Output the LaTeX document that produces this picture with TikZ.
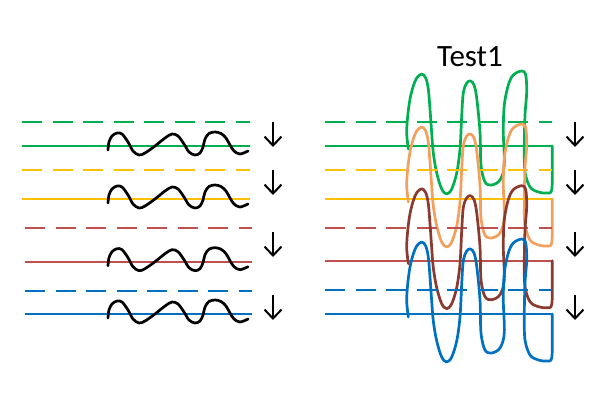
\documentclass[tikz,border=0pt]{standalone}
\usepackage{fontspec}
\newfontfamily\twlabelfont{Carlito}
\usetikzlibrary{arrows.meta}
\definecolor{twgreen}{HTML}{00B050}
\definecolor{twyellow}{HTML}{FFC000}
\definecolor{twred}{HTML}{C0504D}
\definecolor{twblue}{HTML}{0070C0}
\definecolor{tworange}{HTML}{F2A05E}
\definecolor{twbrown}{HTML}{8B3A30}
\tikzset{
  twline/.style={line width=2.4pt},
  twdash/.style={line width=2.4pt, dash pattern=on 20pt off 10.5pt},
  twwave/.style={line width=2.7pt, line cap=round, line join=round},
  twarrow/.style={-{Straight Barb[length=9pt, width=17pt]},
    line width=2pt, draw=black},
  twtitle/.style={anchor=base, font=\twlabelfont\fontsize{31}{36}\selectfont},
}

\begin{document}
\begin{tikzpicture}[x=1pt, y=-1pt]

\useasboundingbox (0, 0) rectangle (611, 396);

% Left panel: lines with a small wave on each solid line.
\foreach \ydash/\yline/\xa/\xb/\col in {%
    122/146/22/250/twgreen,
    170/199/22/250/twyellow,
    228/261.7/25/252/twred,
    290.7/314/25/252/twblue} {
  \draw[twdash, draw=\col] (\xa, \ydash) -- (\xb, \ydash);
  \draw[twline, draw=\col] (\xa, \yline) -- (\xb, \yline);
  \draw[twwave, shift={(0, \yline)}] plot[smooth, tension=0.55] coordinates {
    (108, 4) (109, -4) (112, -10) (117, -13) (122, -12) (128, -4)
    (133, 5) (139, 9) (145, 7) (155, 0) (165, -8) (172, -12)
    (178, -10) (184, -2) (189, 6) (195, 9) (200, 7) (203, 1)
    (205, -7) (209, -12.5) (215, -14) (221, -12.5) (226, -8) (230, -1)
    (234, 5) (240, 8) (248, 5)};
}

% Right panel: the same lines with the wave stretched upwards.
\node[twtitle] (title) at (470, 66.7) {Test1};
\foreach \ydash/\yline/\col/\wcol in {%
    121.7/146/twgreen/twgreen,
    170/199/twyellow/tworange,
    228/260.7/twred/twbrown,
    290/314/twblue/twblue} {
  \draw[twdash, draw=\col] (325, \ydash) -- (552, \ydash);
  \draw[twline, draw=\col] (325, \yline) -- (552, \yline);
  \draw[twwave, draw=\wcol, shift={(0, \yline)}]
    plot[smooth, tension=0.55] coordinates {
    (408.3, 3) (406.7, -13) (407.7, -30) (410, -47) (413.3, -60)
    (416.7, -68) (421.7, -72) (425.7, -68) (428.3, -57) (430, -37)
    (431.7, -13) (433.3, 7) (436.7, 27) (441.7, 43) (446.7, 48)
    (451.7, 43) (456.7, 27) (460, 3) (461.7, -30) (463.3, -53)
    (466.7, -63) (470.5, -65) (474, -61) (476.7, -48) (480, -14)
    (481, 19) (485, 36) (491.7, 39) (500, 34) (504.3, 19)
    (503.3, -14) (504.3, -41) (508.3, -61) (513.3, -71) (521.7, -75)
    (525.7, -71) (526.7, -54) (525, -31) (524.3, 2) (525, 26)
    (530, 41) (538.3, 46) (546.7, 47) (551.7, 44) (552.3, 19)
    (552.3, 0)};
}

% Arrows beside both panels.
\foreach \x in {273, 575} {
  \foreach \ya/\yb in {122/147, 170/195, 232/257, 295/320} {
    \draw[twarrow] (\x, \ya) -- (\x, \yb);
  }
}

\end{tikzpicture}
\end{document}
